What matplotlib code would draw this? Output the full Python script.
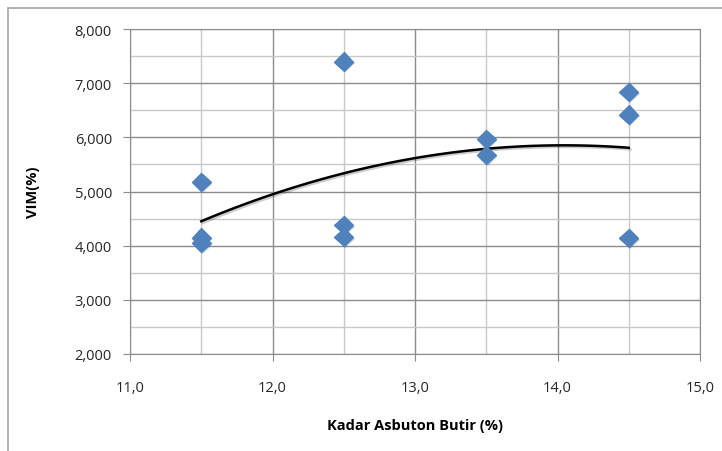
import matplotlib
matplotlib.use("Agg")
import matplotlib.pyplot as plt
import matplotlib.patheffects as pe
from matplotlib.patches import Rectangle
from matplotlib.ticker import MultipleLocator, FuncFormatter
import numpy as np

# data
kadar = [11.5, 11.5, 11.5, 12.5, 12.5, 12.5, 13.5, 13.5, 14.5, 14.5, 14.5]
vim = [5175, 4150, 4050, 7400, 4380, 4160, 5970, 5675, 6840, 6420, 4140]

plt.rcParams['font.family'] = ['Open Sans', 'DejaVu Sans']

fig = plt.figure(figsize=(7.22, 4.52), dpi=100)
fig.patches.append(Rectangle((8 / 722, -0.1), 1.2, 1 - 9 / 452 + 0.1,
                             transform=fig.transFigure, fill=False,
                             edgecolor='#a6a6a6', linewidth=1.2))
ax = fig.add_axes([130 / 722, 1 - 355 / 452, 570 / 722, 325 / 452])

blue = '#4f81bd'
ax.plot(kadar, vim, linestyle='none', marker='D', markersize=9.5, color=blue,
        zorder=4, path_effects=[pe.SimplePatchShadow(offset=(1.2, -1.2), alpha=0.2), pe.Normal()])

# 2nd order polynomial trendline
coef = np.polyfit(kadar, vim, 2)
xs = np.linspace(min(kadar), max(kadar), 100)
ax.plot(xs, np.polyval(coef, xs), color='black', linewidth=1.8, zorder=3,
        path_effects=[pe.SimpleLineShadow(offset=(1.2, -1.2), alpha=0.2), pe.Normal()])

ax.set_xlim(11, 15)
ax.set_ylim(2000, 8000)
ax.xaxis.set_major_locator(MultipleLocator(1))
ax.xaxis.set_minor_locator(MultipleLocator(0.5))
ax.yaxis.set_major_locator(MultipleLocator(1000))
ax.yaxis.set_minor_locator(MultipleLocator(500))
ax.xaxis.set_major_formatter(FuncFormatter(lambda v, p: f"{v:.1f}".replace('.', ',')))
ax.yaxis.set_major_formatter(FuncFormatter(lambda v, p: f"{int(v):,}"))

ax.grid(which='major', color='#8c8c8c', linewidth=1.0)
ax.grid(which='minor', color='#c8c8c8', linewidth=1.0)
ax.set_axisbelow(True)
for s in ax.spines.values():
    s.set_color('#8c8c8c')
ax.tick_params(which='major', direction='out', length=5, color='#8c8c8c',
               labelsize=10.5, labelcolor='#262626', pad=8)
ax.tick_params(which='minor', length=0)
ax.tick_params(axis='x', pad=14)

ax.set_xlabel('Kadar Asbuton Butir (%)', fontsize=10.5, fontweight='bold', labelpad=16)
ax.set_ylabel('VIM(%)', fontsize=10.5, fontweight='bold', labelpad=22)
ax.yaxis.set_label_coords(-0.158, 0.5)

fig.savefig('out.png', dpi=100)
